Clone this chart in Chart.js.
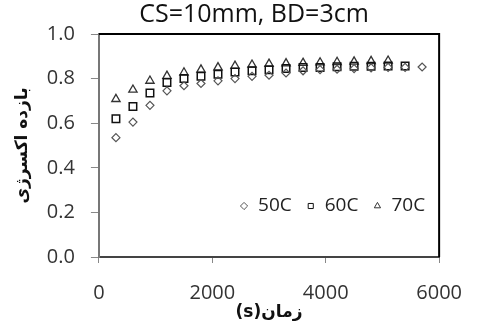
<!DOCTYPE html>
<html>
<head>
<meta charset="utf-8">
<script src="https://cdn.jsdelivr.net/npm/chart.js@4/dist/chart.umd.min.js"></script>
<style>
  html, body { margin: 0; padding: 0; background: #fff; }
  #wrap { width: 480px; height: 330px; }
</style>
</head>
<body>
<div id="wrap"><canvas id="chart"></canvas></div>
<script>
// time (s) for each series
const time50 = [300, 600, 900, 1200, 1500, 1800, 2100, 2400, 2700, 3000, 3300, 3600, 3900, 4200, 4500, 4800, 5100, 5400, 5700];
const time60 = [300, 600, 900, 1200, 1500, 1800, 2100, 2400, 2700, 3000, 3300, 3600, 3900, 4200, 4500, 4800, 5100, 5400];
const time70 = [300, 600, 900, 1200, 1500, 1800, 2100, 2400, 2700, 3000, 3300, 3600, 3900, 4200, 4500, 4800, 5100];

// exergy efficiency
const eff50 = [0.535, 0.605, 0.68, 0.745, 0.768, 0.778, 0.79, 0.80, 0.81, 0.815, 0.825, 0.835, 0.84, 0.842, 0.845, 0.848, 0.85, 0.85, 0.852];
const eff60 = [0.62, 0.675, 0.735, 0.783, 0.80, 0.81, 0.82, 0.83, 0.835, 0.84, 0.845, 0.85, 0.85, 0.853, 0.855, 0.855, 0.857, 0.857];
const eff70 = [0.708, 0.75, 0.79, 0.812, 0.827, 0.84, 0.85, 0.857, 0.862, 0.866, 0.868, 0.87, 0.872, 0.874, 0.876, 0.878, 0.88];

const seriesLabels = ["50C", "60C", "70C"];
const xTicks = [0, 2000, 4000, 6000];
const yTicks = [0.0, 0.2, 0.4, 0.6, 0.8, 1.0];

const chartTitle = "CS=10mm, BD=3cm";
const xTitle = "(s)زمان";
const yTitle = "بازده اکسرژی";

const toPoints = (xs, ys) => xs.map((x, i) => ({ x: x, y: ys[i] }));

// top and right edges of the plot box
const frame = {
  id: "frame",
  afterDraw(chart) {
    const { ctx, chartArea: a } = chart;
    ctx.save();
    ctx.strokeStyle = "#000";
    ctx.lineWidth = 2;
    ctx.beginPath();
    ctx.moveTo(a.left, a.top);
    ctx.lineTo(a.right, a.top);
    ctx.lineTo(a.right, a.bottom);
    ctx.stroke();
    ctx.restore();
  }
};

// legend drawn inside the plot, lower right
const insideLegend = {
  id: "insideLegend",
  afterDraw(chart) {
    const { ctx, chartArea: a } = chart;
    const y = a.bottom - 51;
    let x = a.right - 14;
    ctx.save();
    ctx.font = '19px "Open Sans"';
    ctx.textBaseline = "middle";
    chart.data.datasets.slice().reverse().forEach(ds => {
      const w = ctx.measureText(ds.label).width;
      x -= w;
      ctx.fillStyle = "#222";
      ctx.fillText(ds.label, x, y);
      const mx = x - 14;
      ctx.fillStyle = "rgba(0,0,0,0)";
      ctx.strokeStyle = ds.pointBorderColor;
      ctx.lineWidth = 1;
      Chart.helpers.drawPoint(ctx, { pointStyle: ds.pointStyle, radius: 3.6, borderWidth: 1, rotation: 0 }, mx, y);
      x = mx - 19;
    });
    ctx.restore();
  }
};

// shift the title a bit to the left, as in the original
const titleShift = {
  id: "titleShift",
  afterLayout(chart) {
    if (chart.titleBlock) {
      chart.titleBlock.left -= 30;
    }
  }
};

const ctx = document.getElementById("chart").getContext("2d");
new Chart(ctx, {
  type: "scatter",
  data: {
    datasets: [
      {
        label: seriesLabels[0],
        data: toPoints(time50, eff50),
        pointStyle: "rectRot",
        pointRadius: 4,
        pointBorderWidth: 1.2,
        pointBorderColor: "#555",
        pointBackgroundColor: "rgba(0,0,0,0)"
      },
      {
        label: seriesLabels[1],
        data: toPoints(time60, eff60),
        pointStyle: "rect",
        pointRadius: 5.3,
        pointBorderWidth: 1.5,
        pointBorderColor: "#111",
        pointBackgroundColor: "rgba(0,0,0,0)"
      },
      {
        label: seriesLabels[2],
        data: toPoints(time70, eff70),
        pointStyle: "triangle",
        pointRadius: 4.8,
        pointBorderWidth: 1.3,
        pointBorderColor: "#333",
        pointBackgroundColor: "rgba(0,0,0,0)"
      }
    ]
  },
  options: {
    responsive: true,
    maintainAspectRatio: false,
    animation: false,
    layout: { padding: { left: 0, right: 27, top: 0, bottom: 0 } },
    plugins: {
      legend: { display: false },
      tooltip: { enabled: false },
      title: {
        display: true,
        text: chartTitle,
        fullSize: false,
        color: "#111",
        font: { family: "Open Sans", size: 25, weight: "normal", lineHeight: 1.2 },
        padding: { top: 0, bottom: 4 }
      }
    },
    scales: {
      x: {
        type: "linear",
        min: 0,
        max: 6000,
        afterBuildTicks: (axis) => { axis.ticks = xTicks.map(v => ({ value: v })); },
        grid: { drawOnChartArea: false, drawTicks: true, tickLength: 6, tickColor: "#888", tickWidth: 1 },
        border: { display: true, color: "#444", width: 2 },
        ticks: {
          color: "#333",
          padding: 18,
          maxRotation: 0,
          font: { family: "Open Sans", size: 20, lineHeight: 1.2 },
          callback: (v) => String(v)
        },
        title: {
          display: true,
          text: xTitle,
          color: "#111",
          font: { family: "DejaVu Sans", size: 17, weight: "bold", lineHeight: 1.2 },
          padding: { top: -20.2, bottom: 6.8 }
        }
      },
      y: {
        type: "linear",
        min: 0,
        max: 1,
        afterBuildTicks: (axis) => { axis.ticks = yTicks.map(v => ({ value: v })); },
        grid: { drawOnChartArea: false, drawTicks: true, tickLength: 8, tickColor: "#888", tickWidth: 1 },
        border: { display: true, color: "#777", width: 2 },
        ticks: {
          color: "#333",
          padding: 16,
          font: { family: "Open Sans", size: 20, lineHeight: 1.2 },
          callback: (v) => Number(v).toFixed(1)
        },
        title: {
          display: true,
          text: yTitle,
          color: "#111",
          font: { family: "DejaVu Sans", size: 17, weight: "bold", lineHeight: 1.2 },
          padding: { top: 12.8, bottom: -2.4 }
        }
      }
    }
  },
  plugins: [frame, insideLegend, titleShift]
});
</script>
</body>
</html>
